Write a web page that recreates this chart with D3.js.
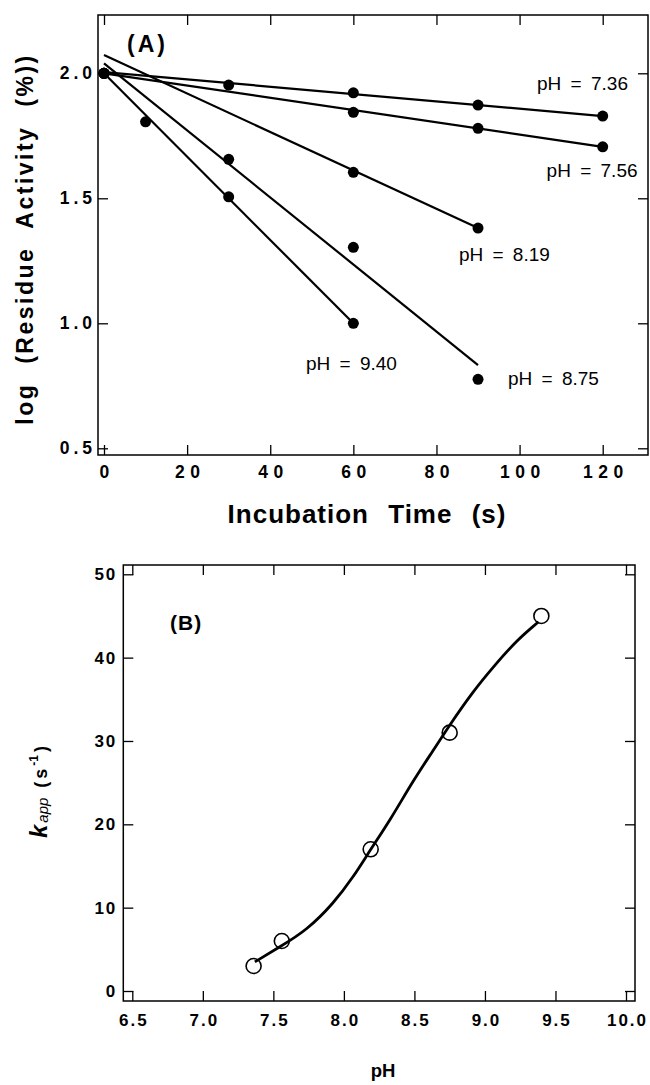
<!DOCTYPE html>
<html>
<head>
<meta charset="utf-8">
<script src="https://cdn.jsdelivr.net/npm/d3@7"></script>
<style>
  body { margin: 0; background: #fff; }
  svg { display: block; font-family: "Liberation Sans", Arial, Helvetica, sans-serif; }
  .tick line { stroke: #000; stroke-width: 1.3; }
</style>
</head>
<body>
<div id="wrapper"></div>
<script>
// ---- panel A data: log residual activity vs incubation time ----
const seriesNames = ["7.36", "7.56", "8.19", "8.75", "9.40"];
const pointsA = [
    [[0, 2.0], [30, 1.953], [60, 1.922], [90, 1.873], [120, 1.829]],
    [[0, 2.0], [60, 1.844], [90, 1.78], [120, 1.706]],
    [[0, 2.0], [60, 1.604], [90, 1.381]],
    [[0, 2.0], [30, 1.656], [60, 1.304], [90, 0.776]],
    [[0, 2.0], [10, 1.806], [30, 1.506], [60, 1.0]]
];
// fitted straight lines, [start, end] in data units
const fitsA = [
    [[0, 2.005], [120, 1.829]],
    [[0, 2.0], [120, 1.706]],
    [[0, 2.073], [90, 1.381]],
    [[0, 2.04], [90, 0.833]],
    [[0, 2.0], [60, 1.0]]
];
// label anchors in data units (start of text, baseline)
const labelAnchorsA = [[104.2, 1.933], [106.5, 1.586], [85.4, 1.25], [97.2, 0.753], [48.6, 0.813]];
const xTicksA = [0, 20, 40, 60, 80, 100, 120];
const yTicksA = [0.5, 1.0, 1.5, 2.0];

// ---- panel B data: k_app vs pH ----
const pH = [7.36, 7.56, 8.19, 8.75, 9.40];
const kApp = [3.0, 6.0, 17.0, 31.0, 45.0];
const curvePH = [7.369, 7.547, 7.737, 7.926, 8.068, 8.186, 8.328, 8.493, 8.635, 8.741, 8.918, 9.06, 9.226, 9.38];
const curveK = [3.5, 5.3, 7.3, 10.5, 13.7, 16.9, 20.5, 25.3, 28.9, 31.7, 36.0, 38.9, 42.1, 44.3];
const xTicksB = [6.5, 7.0, 7.5, 8.0, 8.5, 9.0, 9.5, 10.0];
const yTicksB = [0, 10, 20, 30, 40, 50];

let wSvg = 650;
let hSvg = 1085;

let svg = d3.select("#wrapper").append("svg")
    .attr("width", wSvg)
    .attr("height", hSvg);

// ================= panel A =================
let frameA = { left: 98, right: 648, top: 15, bottom: 455 };
let xA = d3.scaleLinear().domain([0, 120]).range([104, 602.7]);
let yA = d3.scaleLinear().domain([0.5, 2.0]).range([448.3, 73.3]);

let gA = svg.append("g");

gA.append("rect")
    .attr("x", frameA.left).attr("y", frameA.top)
    .attr("width", frameA.right - frameA.left)
    .attr("height", frameA.bottom - frameA.top)
    .attr("fill", "none").attr("stroke", "#000").attr("stroke-width", 1.5);

let axA = gA.append("g").attr("transform", `translate(0,${frameA.bottom})`)
    .call(d3.axisBottom(xA).tickValues(xTicksA).tickSize(-10).tickSizeOuter(0).tickPadding(11)
        .tickFormat(d3.format("d")));
axA.select(".domain").remove();
axA.selectAll("text")
    .attr("font-size", 17.5).attr("font-weight", "bold").attr("fill", "#000")
    .attr("letter-spacing", 5.5).attr("dx", 2.7).attr("font-family", null);

let ayA = gA.append("g").attr("transform", `translate(${frameA.left},0)`)
    .call(d3.axisLeft(yA).tickValues(yTicksA).tickSize(-10).tickSizeOuter(0).tickPadding(2)
        .tickFormat(d3.format(".1f")));
ayA.select(".domain").remove();
ayA.selectAll("text")
    .attr("font-size", 17.5).attr("font-weight", "bold").attr("fill", "#000")
    .attr("letter-spacing", 4).attr("font-family", null);

let topA = gA.append("g").attr("transform", `translate(0,${frameA.top})`)
    .call(d3.axisTop(xA).tickValues(xTicksA).tickSize(-10).tickSizeOuter(0).tickFormat(""));
topA.select(".domain").remove();

let rightA = gA.append("g").attr("transform", `translate(${frameA.right},0)`)
    .call(d3.axisRight(yA).tickValues(yTicksA).tickSize(-10).tickSizeOuter(0).tickFormat(""));
rightA.select(".domain").remove();

let lineA = d3.line().x(d => xA(d[0])).y(d => yA(d[1]));

gA.selectAll("path.fit")
    .data(fitsA)
    .enter()
    .append("path")
    .attr("class", "fit")
    .attr("d", lineA)
    .attr("fill", "none")
    .attr("stroke", "#000")
    .attr("stroke-width", 2.2);

seriesNames.forEach((name, i) => {
    gA.selectAll(`circle.s${i}`)
        .data(pointsA[i])
        .enter()
        .append("circle")
        .attr("class", `s${i}`)
        .attr("cx", d => xA(d[0]))
        .attr("cy", d => yA(d[1]))
        .attr("r", 5.5)
        .attr("fill", "#000");

    gA.append("text")
        .attr("x", xA(labelAnchorsA[i][0]))
        .attr("y", yA(labelAnchorsA[i][1]))
        .attr("font-size", 19)
        .attr("word-spacing", 4)
        .text(`pH = ${name}`);
});

gA.append("text")
    .attr("x", 127).attr("y", 52)
    .attr("font-size", 23).attr("font-weight", "bold")
    .attr("letter-spacing", 3)
    .text("(A)");

gA.append("text")
    .attr("x", 367).attr("y", 523)
    .attr("text-anchor", "middle")
    .attr("font-size", 26).attr("font-weight", "bold")
    .attr("letter-spacing", 1).attr("word-spacing", 11)
    .text("Incubation Time (s)");

gA.append("text")
    .attr("transform", "translate(33,239) rotate(-90)")
    .attr("text-anchor", "middle")
    .attr("font-size", 23).attr("font-weight", "bold")
    .attr("letter-spacing", 2.5).attr("word-spacing", 10)
    .text("log (Residue Activity (%))");

// ================= panel B =================
let frameB = { left: 123.3, right: 635, top: 565, bottom: 1001 };
let xB = d3.scaleLinear().domain([6.5, 10]).range([132.3, 626]);
let yB = d3.scaleLinear().domain([0, 50]).range([991, 574.3]);

let gB = svg.append("g");

gB.append("rect")
    .attr("x", frameB.left).attr("y", frameB.top)
    .attr("width", frameB.right - frameB.left)
    .attr("height", frameB.bottom - frameB.top)
    .attr("fill", "none").attr("stroke", "#000").attr("stroke-width", 1.5);

let axB = gB.append("g").attr("transform", `translate(0,${frameB.bottom})`)
    .call(d3.axisBottom(xB).tickValues(xTicksB).tickSize(-10).tickSizeOuter(0).tickPadding(13)
        .tickFormat(d3.format(".1f")));
axB.select(".domain").remove();
axB.selectAll("text")
    .attr("font-size", 17).attr("font-weight", "bold").attr("fill", "#000")
    .attr("letter-spacing", 2).attr("dx", 1).attr("font-family", null);

let ayB = gB.append("g").attr("transform", `translate(${frameB.left},0)`)
    .call(d3.axisLeft(yB).tickValues(yTicksB).tickSize(-10).tickSizeOuter(0).tickPadding(6)
        .tickFormat(d3.format("d")));
ayB.select(".domain").remove();
ayB.selectAll("text")
    .attr("font-size", 17).attr("font-weight", "bold").attr("fill", "#000")
    .attr("letter-spacing", 2).attr("font-family", null);

let topB = gB.append("g").attr("transform", `translate(0,${frameB.top})`)
    .call(d3.axisTop(xB).tickValues(xTicksB).tickSize(-10).tickSizeOuter(0).tickFormat(""));
topB.select(".domain").remove();

let rightB = gB.append("g").attr("transform", `translate(${frameB.right},0)`)
    .call(d3.axisRight(yB).tickValues(yTicksB).tickSize(-10).tickSizeOuter(0).tickFormat(""));
rightB.select(".domain").remove();

let curveData = curvePH.map((p, i) => [p, curveK[i]]);
gB.append("path")
    .datum(curveData)
    .attr("d", d3.line().x(d => xB(d[0])).y(d => yB(d[1])).curve(d3.curveBasis))
    .attr("fill", "none")
    .attr("stroke", "#000")
    .attr("stroke-width", 2.8);

gB.selectAll("circle.kapp")
    .data(pH.map((p, i) => [p, kApp[i]]))
    .enter()
    .append("circle")
    .attr("class", "kapp")
    .attr("cx", d => xB(d[0]))
    .attr("cy", d => yB(d[1]))
    .attr("r", 7.5)
    .attr("fill", "none")
    .attr("stroke", "#000")
    .attr("stroke-width", 1.6);

gB.append("text")
    .attr("x", 170).attr("y", 630)
    .attr("font-size", 21).attr("font-weight", "bold")
    .attr("letter-spacing", 1)
    .text("(B)");

gB.append("text")
    .attr("x", 383).attr("y", 1077)
    .attr("text-anchor", "middle")
    .attr("font-size", 18.5).attr("font-weight", "bold")
    .text("pH");

let yLabB = gB.append("text")
    .attr("transform", "translate(47,792) rotate(-90)")
    .attr("text-anchor", "middle");
yLabB.append("tspan").attr("font-size", 24).attr("font-weight", "bold").attr("font-style", "italic").text("k");
yLabB.append("tspan").attr("font-size", 15).attr("font-style", "italic").attr("dx", 2).attr("dy", 1).text("app");
yLabB.append("tspan").attr("font-size", 18).attr("font-weight", "bold").attr("dx", 10).attr("dy", -1)
    .attr("letter-spacing", 3).text("(s");
yLabB.append("tspan").attr("font-size", 12).attr("font-weight", "bold").attr("dy", -9).text("-1");
yLabB.append("tspan").attr("font-size", 18).attr("font-weight", "bold").attr("dx", 3).attr("dy", 9).text(")");
</script>
</body>
</html>
